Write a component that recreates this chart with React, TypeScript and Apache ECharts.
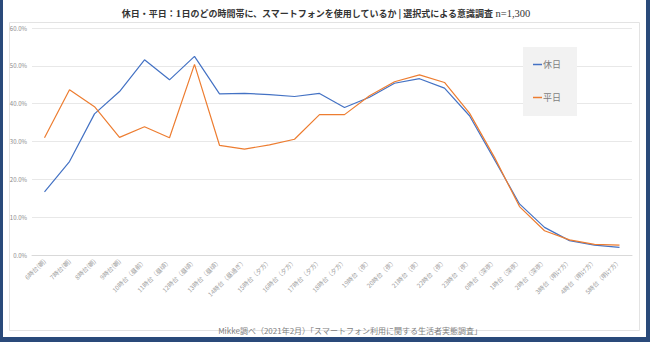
import React, { useEffect, useRef } from "react";
import * as echarts from "echarts";

const categories = [
  "6時台(朝)", "7時台(朝)", "8時台(朝)", "9時台(朝)",
  "10時台（昼前）", "11時台（昼頃）", "12時台（昼頃）", "13時台（昼頃）",
  "14時台（昼過ぎ）", "15時台（夕方）", "16時台（夕方）", "17時台（夕方）",
  "18時台（夕方）", "19時台（夜）", "20時台（夜）", "21時台（夜）",
  "22時台（夜）", "23時台（夜）", "0時台（深夜）", "1時台（深夜）",
  "2時台（深夜）", "3時台（明け方）", "4時台（明け方）", "5時台（明け方）",
];

const holidayValues = [
  16.7, 24.7, 37.3, 43.2, 51.6, 46.3, 52.5, 42.6,
  42.7, 42.4, 41.9, 42.7, 39.0, 41.7, 45.4, 46.6,
  44.1, 36.8, 25.2, 13.5, 7.3, 3.8, 2.6, 2.0,
];

const weekdayValues = [
  31.0, 43.7, 39.2, 31.1, 33.9, 31.0, 50.4, 29.0,
  28.0, 29.1, 30.6, 37.1, 37.1, 42.1, 45.8, 47.6,
  45.6, 37.5, 25.8, 12.8, 6.4, 4.0, 2.8, 2.6,
];

const seriesNames = ["休日", "平日"];
const titleMain = "休日・平日：";
const titleOne = "1";
const titleRest = "日のどの時間帯に、スマートフォンを使用しているか | 選択式による意識調査 ";
const titleN = "n=1,300";
const footerText = "Mikke調べ（2021年2月）「スマートフォン利用に関する生活者実態調査」";

const JP = '"Noto Sans CJK JP", "Noto Sans", sans-serif';
const SERIF = '"Liberation Serif", "DejaVu Serif", serif';

export default function App() {
  const ref = useRef<HTMLDivElement>(null);

  useEffect(() => {
    document.body.style.margin = "0";
    if (!ref.current) return;
    const chart = echarts.init(ref.current, undefined, { renderer: "svg" });
    chart.setOption({
      animation: false,
      backgroundColor: "#ffffff",
      grid: { left: 32, right: 18, top: 28, bottom: 87 },
      legend: {
        orient: "vertical",
        left: 523,
        top: 47,
        padding: [13, 16, 14, 10],
        itemGap: 24,
        backgroundColor: "#f2f2f2",
        icon: "rect",
        itemWidth: 9,
        itemHeight: 1.5,
        textStyle: { fontFamily: JP, fontSize: 9, color: "#7f7f7f", padding: [0, 0, 0, -4] },
        data: seriesNames,
      },
      xAxis: {
        type: "category",
        data: categories,
        boundaryGap: true,
        axisLine: { lineStyle: { color: "#d9d9d9" } },
        axisTick: { show: false },
        axisLabel: {
          interval: 0,
          rotate: 45,
          fontSize: 6.2,
          color: "#a0a0a0",
          fontFamily: JP,
          margin: 5,
        },
      },
      yAxis: {
        type: "value",
        min: 0,
        max: 60,
        interval: 10,
        axisLine: { show: false },
        axisTick: { show: false },
        splitLine: { lineStyle: { color: "#e8e8e8" } },
        axisLabel: {
          formatter: (v: number) => `${v.toFixed(1)}%`,
          fontSize: 6,
          color: "#8a8a8a",
          fontFamily: JP,
          margin: 5,
        },
      },
      series: [
        {
          name: seriesNames[0],
          type: "line",
          data: holidayValues,
          symbol: "none",
          lineStyle: { color: "#4472c4", width: 1.2 },
          itemStyle: { color: "#4472c4" },
        },
        {
          name: seriesNames[1],
          type: "line",
          data: weekdayValues,
          symbol: "none",
          lineStyle: { color: "#ed7d31", width: 1.2 },
          itemStyle: { color: "#ed7d31" },
        },
      ],
      graphic: [
        {
          type: "rect",
          shape: { x: 9.5, y: 22.5, width: 630, height: 308 },
          style: { fill: "none", stroke: "#e3e3e3", lineWidth: 1 },
          silent: true,
          z: -1,
        },
        {
          type: "text",
          x: 326,
          y: 13,
          style: {
            text: `{a|${titleMain}}{o|${titleOne}}{a|${titleRest}}{n|${titleN}}`,
            align: "center",
            verticalAlign: "middle",
            rich: {
              a: { fontFamily: JP, fontSize: 9, fontWeight: "bold", fill: "#333333" },
              o: { fontFamily: SERIF, fontSize: 10.5, fontWeight: "bold", fill: "#333333" },
              n: { fontFamily: SERIF, fontSize: 10.5, fontWeight: "normal", fill: "#333333" },
            },
          },
        },
        {
          type: "text",
          x: 350,
          y: 330,
          style: {
            text: footerText,
            align: "center",
            verticalAlign: "middle",
            fontFamily: JP,
            fontSize: 8,
            fill: "#7f7f7f",
          },
        },
      ],
    });
    return () => chart.dispose();
  }, []);

  return (
    <div style={{ position: "absolute", left: 0, top: 0, width: 650, height: 342 }}>
      <div ref={ref} style={{ position: "absolute", left: 0, top: 0, width: 650, height: 342 }} />
      <div
        style={{
          position: "absolute",
          left: 0,
          top: 0,
          width: 650,
          height: 342,
          boxSizing: "border-box",
          borderLeft: "3px solid #2a4a7a",
          borderRight: "4px solid #2a4a7a",
          borderBottom: "5px solid #2a4a7a",
          pointerEvents: "none",
        }}
      />
    </div>
  );
}
